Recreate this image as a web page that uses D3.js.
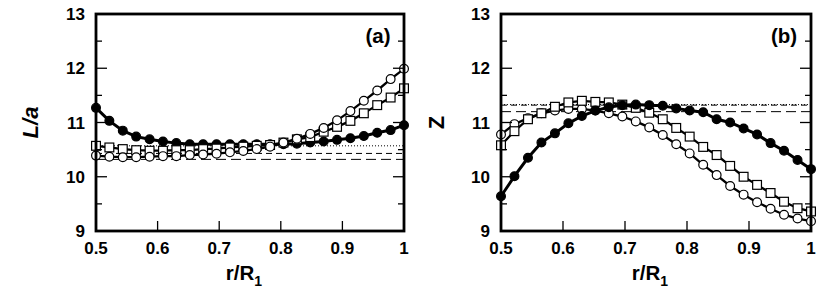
<!DOCTYPE html>
<html><head><meta charset="utf-8">
<script src="https://cdn.jsdelivr.net/npm/d3@7/dist/d3.min.js"></script>
<style>body{margin:0;background:#fff}svg{display:block}text{font-family:"Liberation Sans",Arial,sans-serif;font-weight:bold;fill:#000}</style>
</head><body><svg id="c" width="834" height="292"></svg>
<script>
const rValues = [0.5,0.5217,0.5435,0.5652,0.5870,0.6087,0.6304,0.6522,0.6739,0.6957,0.7174,0.7391,0.7609,0.7826,0.8043,0.8261,0.8478,0.8696,0.8913,0.9130,0.9348,0.9565,0.9783,1.0];
// panel (a) L/a
const aFilled = [11.27,11.03,10.85,10.74,10.69,10.65,10.62,10.60,10.60,10.60,10.60,10.60,10.60,10.60,10.60,10.61,10.63,10.65,10.68,10.71,10.75,10.81,10.86,10.95];
const aSquare = [10.57,10.54,10.51,10.49,10.48,10.48,10.49,10.49,10.51,10.52,10.54,10.555,10.57,10.585,10.63,10.69,10.73,10.83,10.92,11.03,11.17,11.32,11.46,11.63];
const aOpen   = [10.39,10.37,10.36,10.36,10.37,10.38,10.38,10.40,10.41,10.425,10.45,10.475,10.51,10.555,10.63,10.70,10.79,10.90,11.04,11.21,11.40,11.59,11.80,11.99];
const aRefDotted = 10.57, aRefShort = 10.43, aRefLong = 10.32;
// panel (b) Z
const bFilled = [9.64,10.01,10.35,10.63,10.80,10.985,11.12,11.22,11.28,11.32,11.33,11.32,11.31,11.26,11.22,11.19,11.06,11.00,10.89,10.78,10.62,10.48,10.31,10.14];
const bSquare = [10.58,10.84,11.06,11.17,11.29,11.37,11.40,11.38,11.37,11.33,11.27,11.18,11.06,10.90,10.74,10.55,10.40,10.20,10.00,9.85,9.70,9.54,9.42,9.36];
const bOpen   = [10.78,10.97,11.08,11.17,11.22,11.25,11.25,11.22,11.17,11.11,11.02,10.91,10.77,10.60,10.43,10.22,10.03,9.83,9.67,9.53,9.41,9.30,9.23,9.18];
const bRefDotted = 11.33, bRefShort = 11.32, bRefLong = 11.20;
const xTicks = [0.5,0.6,0.7,0.8,0.9,1];
const xTickLabels = ["0.5","0.6","0.7","0.8","0.9","1"];
const yTicks = [9,10,11,12,13];
const yMinorTicks = [9.5,10.5,11.5,12.5];

const svg = d3.select("#c");

function panel(o){
  const g = svg.append("g");
  const x = d3.scaleLinear().domain([0.5,1]).range([o.x0,o.x1]);
  const y = d3.scaleLinear().domain([9,13]).range([o.y1,o.y0]);
  // reference lines
  const refs = [
    {v:o.refDotted, dash:"1,2"},
    {v:o.refShort, dash:"6,4"},
    {v:o.refLong, dash:"10,5"}
  ];
  g.append("g").selectAll("line").data(refs).join("line")
    .attr("x1",x(0.5)).attr("x2",x(1)).attr("y1",d=>y(d.v)).attr("y2",d=>y(d.v))
    .attr("stroke","#000").attr("stroke-width",1).attr("stroke-dasharray",d=>d.dash);
  const line = d3.line().x((d,i)=>x(rValues[i])).y(d=>y(d));
  const series = [
    {vals:o.open, type:"open", w:2.3},
    {vals:o.square, type:"square", w:2.3},
    {vals:o.filled, type:"filled", w:3}
  ];
  if(o.tag==="a"){ series.reverse(); }
  series.forEach(s=>{
    g.append("path").datum(s.vals).attr("d",line).attr("fill","none")
      .attr("stroke","#000").attr("stroke-width",s.w);
    if(s.type==="square"){
      g.append("g").selectAll("rect").data(s.vals).join("rect")
        .attr("x",(d,i)=>x(rValues[i])-4.4).attr("y",d=>y(d)-4.4)
        .attr("width",8.8).attr("height",8.8)
        .attr("fill","#fff").attr("stroke","#000").attr("stroke-width",1.2);
    } else {
      g.append("g").selectAll("circle").data(s.vals).join("circle")
        .attr("cx",(d,i)=>x(rValues[i])).attr("cy",d=>y(d)).attr("r",4.4)
        .attr("fill",s.type==="filled"?"#000":"#fff").attr("stroke","#000").attr("stroke-width",1.2);
    }
  });
  // ticks
  const tk = g.append("g").attr("stroke","#000").attr("stroke-width",1.3);
  yTicks.forEach(t=>{
    tk.append("line").attr("x1",o.x0).attr("x2",o.x0+11).attr("y1",y(t)).attr("y2",y(t));
    tk.append("line").attr("x1",o.x1).attr("x2",o.x1-11).attr("y1",y(t)).attr("y2",y(t));
  });
  yMinorTicks.forEach(t=>{
    tk.append("line").attr("x1",o.x0).attr("x2",o.x0+6).attr("y1",y(t)).attr("y2",y(t));
    tk.append("line").attr("x1",o.x1).attr("x2",o.x1-6).attr("y1",y(t)).attr("y2",y(t));
  });
  xTicks.slice(1,-1).forEach(t=>{
    tk.append("line").attr("x1",x(t)).attr("x2",x(t)).attr("y1",o.y1).attr("y2",o.y1-10);
  });
  // frame
  g.append("rect").attr("x",o.x0).attr("y",o.y0).attr("width",o.x1-o.x0).attr("height",o.y1-o.y0)
    .attr("fill","none").attr("stroke","#000").attr("stroke-width",2.8);
  // tick labels
  g.append("g").selectAll("text").data(yTicks).join("text")
    .attr("x",o.x0-11).attr("y",d=>y(d)).attr("dy","0.36em").attr("text-anchor","end")
    .attr("font-size",17).text(d=>d);
  g.append("g").selectAll("text").data(xTicks).join("text")
    .attr("x",d=>x(d)).attr("y",254).attr("text-anchor","middle")
    .attr("font-size",17).text((d,i)=>xTickLabels[i]);
  // x label
  const xl = g.append("text").attr("x",(o.x0+o.x1)/2-6).attr("y",280).attr("text-anchor","middle").attr("font-size",20.5);
  xl.append("tspan").text("r/R");
  xl.append("tspan").attr("dy",6).attr("font-size",14).text("1");
  // y label
  g.append("text").attr("transform",`translate(${o.ylx},${(o.y0+o.y1)/2}) rotate(-90)`)
    .attr("text-anchor","middle").attr("dy","0.35em").attr("font-size",22)
    .attr("font-style",o.yItalic?"italic":"normal").text(o.ylabel);
  // panel tag
  g.append("text").attr("x",o.tagX).attr("y",43).attr("text-anchor","middle").attr("font-size",20.5).text(`(${o.tag})`);
}

panel({tag:"a",x0:96,x1:404,y0:14,y1:231,filled:aFilled,square:aSquare,open:aOpen,
  refDotted:aRefDotted,refShort:aRefShort,refLong:aRefLong,ylabel:"L/a",yItalic:true,ylx:30,tagX:378});
panel({tag:"b",x0:501,x1:811,y0:14,y1:231,filled:bFilled,square:bSquare,open:bOpen,
  refDotted:bRefDotted,refShort:bRefShort,refLong:bRefLong,ylabel:"Z",yItalic:false,ylx:436,tagX:784});
</script></body></html>
